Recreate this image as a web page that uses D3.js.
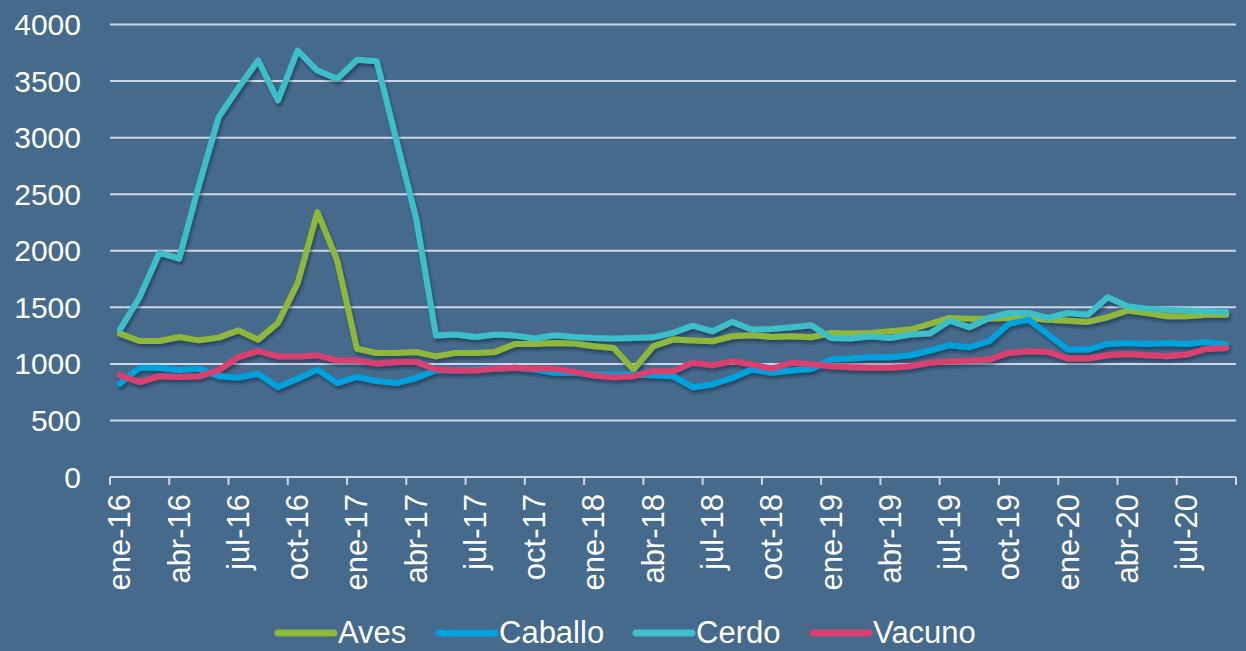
<!DOCTYPE html>
<html>
<head>
<meta charset="utf-8">
<script src="https://cdn.jsdelivr.net/npm/d3@7"></script>
<style>
  html, body { margin: 0; padding: 0; background: #466a8c; }
  svg { display: block; font-family: "Liberation Sans", Arial, sans-serif; }
</style>
</head>
<body>
<svg id="chart" width="1246" height="651"></svg>
<script>
const categories = [
  "ene-16","feb-16","mar-16","abr-16","may-16","jun-16","jul-16","ago-16","sep-16","oct-16","nov-16","dic-16",
  "ene-17","feb-17","mar-17","abr-17","may-17","jun-17","jul-17","ago-17","sep-17","oct-17","nov-17","dic-17",
  "ene-18","feb-18","mar-18","abr-18","may-18","jun-18","jul-18","ago-18","sep-18","oct-18","nov-18","dic-18",
  "ene-19","feb-19","mar-19","abr-19","may-19","jun-19","jul-19","ago-19","sep-19","oct-19","nov-19","dic-19",
  "ene-20","feb-20","mar-20","abr-20","may-20","jun-20","jul-20","ago-20","sep-20"
];
const seriesNames = ["Aves", "Caballo", "Cerdo", "Vacuno"];
const seriesColors = ["#8fb83a", "#00a2de", "#3ebfca", "#d9406f"];

const aves = [1267,1202,1202,1237,1208,1232,1296,1214,1361,1714,2342,1915,
  1134,1096,1096,1105,1066,1097,1097,1106,1176,1176,1185,1179,
  1156,1141,950,1156,1215,1206,1200,1244,1253,1238,1244,1235,
  1274,1268,1274,1288,1303,1353,1406,1400,1400,1406,1406,1391,
  1382,1371,1412,1471,1450,1421,1421,1435,1435];
const caballo = [825,966,966,943,958,890,878,913,795,869,949,830,
  884,848,830,875,945,941,950,959,965,950,921,921,
  906,906,906,900,891,794,818,876,950,921,941,955,
  1038,1047,1059,1059,1076,1118,1165,1147,1200,1353,1391,1259,
  1126,1126,1176,1185,1176,1185,1176,1194,1171];
const cerdo = [1302,1590,1983,1930,2577,3181,3440,3682,3329,3770,3593,3520,
  3688,3676,2975,2283,1250,1259,1238,1259,1250,1224,1253,1238,
  1229,1224,1229,1235,1274,1338,1288,1371,1303,1309,1324,1341,
  1229,1224,1244,1229,1259,1268,1382,1324,1406,1450,1450,1406,
  1450,1435,1588,1509,1488,1479,1471,1465,1459];
const vacuno = [899,839,890,884,890,943,1060,1113,1066,1066,1075,1031,
  1031,1002,1016,1016,950,941,941,956,965,956,956,929,
  897,882,891,935,935,1009,988,1024,994,959,1009,997,
  979,971,965,965,979,1009,1024,1029,1038,1097,1112,1106,
  1047,1047,1076,1088,1076,1068,1082,1132,1141];
const yTicks = [0, 500, 1000, 1500, 2000, 2500, 3000, 3500, 4000];

const seriesData = [aves, caballo, cerdo, vacuno];

const svg = d3.select("#chart");
const plotLeft = 110, plotRight = 1236, plotTop = 24.5, plotBottom = 477;

const defs = svg.append("defs");
const f = defs.append("filter").attr("id", "shadow")
  .attr("x", "-5%").attr("y", "-5%").attr("width", "110%").attr("height", "115%");
f.append("feDropShadow").attr("dx", 1.5).attr("dy", 3).attr("stdDeviation", 1.8)
  .attr("flood-color", "#0d1b2a").attr("flood-opacity", 0.45);

svg.append("rect").attr("width", 1246).attr("height", 651).attr("fill", "#466a8c");

const x = d3.scaleBand().domain(categories).range([plotLeft, plotRight]).padding(0);
const cx = c => x(c) + x.bandwidth() / 2;
const y = d3.scaleLinear().domain([0, 4000]).range([plotBottom, plotTop]);

// gridlines
svg.append("g").selectAll("line").data(yTicks.filter(t => t > 0)).join("line")
  .attr("x1", plotLeft).attr("x2", plotRight)
  .attr("y1", d => y(d)).attr("y2", d => y(d))
  .attr("stroke", "#cfd6e6").attr("stroke-width", 2);

// y labels
svg.append("g").selectAll("text").data(yTicks).join("text")
  .attr("x", 81).attr("y", d => y(d))
  .attr("text-anchor", "end").attr("dominant-baseline", "central")
  .attr("fill", "#ffffff").attr("font-size", 30)
  .text(d => d);

// x axis line and ticks
const axisG = svg.append("g");
axisG.append("line").attr("x1", plotLeft).attr("x2", plotRight).attr("y1", plotBottom).attr("y2", plotBottom)
  .attr("stroke", "#cfd6e6").attr("stroke-width", 2);
const tickPos = categories.filter((c, i) => i % 3 === 0).map(c => x(c)).concat([plotRight]);
axisG.selectAll("line.tick").data(tickPos).join("line").attr("class", "tick")
  .attr("x1", d => d).attr("x2", d => d).attr("y1", plotBottom).attr("y2", plotBottom + 8)
  .attr("stroke", "#cfd6e6").attr("stroke-width", 2);

// x labels
svg.append("g").selectAll("text").data(categories.filter((c, i) => i % 3 === 0)).join("text")
  .attr("transform", d => `translate(${cx(d)},${plotBottom + 17}) rotate(-90)`)
  .attr("text-anchor", "end").attr("dominant-baseline", "central")
  .attr("fill", "#ffffff").attr("font-size", 31)
  .text(d => d);

// lines
const line = d3.line().x((d, i) => cx(categories[i])).y(d => y(d));
const linesG = svg.append("g").attr("filter", "url(#shadow)");
seriesData.forEach((s, k) => {
  linesG.append("path").datum(s)
    .attr("d", line)
    .attr("fill", "none")
    .attr("stroke", seriesColors[k])
    .attr("stroke-width", 6)
    .attr("stroke-linejoin", "round")
    .attr("stroke-linecap", "round");
});

// legend
const legendX = [278, 439, 636, 813];
const legendY = 633;
const lg = svg.append("g");
seriesNames.forEach((n, k) => {
  lg.append("line").attr("x1", legendX[k]).attr("x2", legendX[k] + 56)
    .attr("y1", legendY).attr("y2", legendY)
    .attr("stroke", seriesColors[k]).attr("stroke-width", 7).attr("stroke-linecap", "round");
  lg.append("text").attr("x", legendX[k] + 60).attr("y", legendY + 10)
    .attr("fill", "#ffffff").attr("font-size", 31)
    .text(n);
});
</script>
</body>
</html>
